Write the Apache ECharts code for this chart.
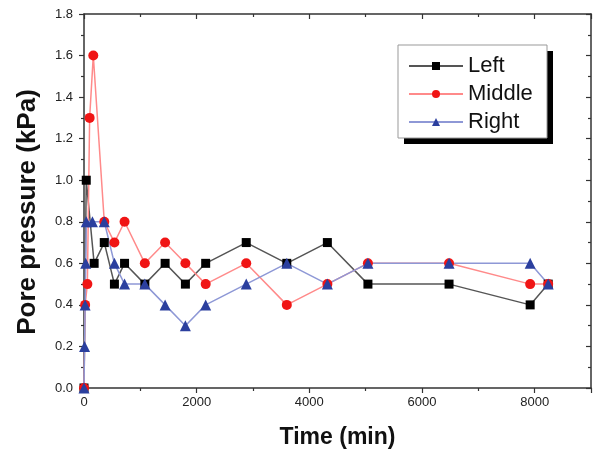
<!DOCTYPE html>
<html>
<head>
<meta charset="utf-8">
<script src="https://cdn.jsdelivr.net/npm/echarts@6/dist/echarts.min.js"></script>
<style>html,body{margin:0;padding:0;background:#fff}#c{width:603px;height:454px}</style>
</head>
<body>
<div id="c"></div>
<script>
const seriesNames = ['Left', 'Middle', 'Right'];
const leftTime = [0, 40, 180, 360, 540, 720, 1080, 1440, 1800, 2160, 2880, 3600, 4320, 5040, 6480, 7920, 8240];
const leftPressure = [0.0, 1.0, 0.6, 0.7, 0.5, 0.6, 0.5, 0.6, 0.5, 0.6, 0.7, 0.6, 0.7, 0.5, 0.5, 0.4, 0.5];
const middleTime = [0, 20, 60, 100, 165, 360, 540, 720, 1080, 1440, 1800, 2160, 2880, 3600, 4320, 5040, 6480, 7920, 8240];
const middlePressure = [0.0, 0.4, 0.5, 1.3, 1.6, 0.8, 0.7, 0.8, 0.6, 0.7, 0.6, 0.5, 0.6, 0.4, 0.5, 0.6, 0.6, 0.5, 0.5];
const rightTime = [0, 10, 20, 30, 40, 150, 360, 540, 720, 1080, 1440, 1800, 2160, 2880, 3600, 4320, 5040, 6480, 7920, 8240];
const rightPressure = [0.0, 0.2, 0.4, 0.6, 0.8, 0.8, 0.8, 0.6, 0.5, 0.5, 0.4, 0.3, 0.4, 0.5, 0.6, 0.5, 0.6, 0.6, 0.6, 0.5];
const xTicks = [0, 2000, 4000, 6000, 8000];
const yTicks = ['0.0','0.2','0.4','0.6','0.8','1.0','1.2','1.4','1.6','1.8'];

const pairs = (xs, ys) => xs.map((x, i) => [x, ys[i]]);
const FONT = "'Liberation Sans', Arial, sans-serif";
const axisLine = { show: true, onZero: false, lineStyle: { color: '#333', width: 1.5 } };
const tickStyle = { color: '#333', width: 1.2 };

const chart = echarts.init(document.getElementById('c'), null, { renderer: 'canvas' });
chart.setOption({
  animation: false,
  backgroundColor: '#fff',
  grid: { left: 84, right: 12, top: 14, bottom: 66 },
  graphic: [
    { type: 'rect', z: 1, shape: { x: 404, y: 51, width: 149, height: 93 }, style: { fill: '#000' } },
    { type: 'rect', z: 2, shape: { x: 398, y: 45, width: 149, height: 93 }, style: { fill: '#fff', stroke: '#999', lineWidth: 1 } }
  ],
  legend: {
    z: 10,
    orient: 'vertical',
    left: 398, top: 45,
    padding: [10, 14, 7, 10],
    itemGap: 6,
    itemWidth: 54, itemHeight: 10,
    textStyle: { fontFamily: FONT, fontSize: 22, color: '#111' },
    data: seriesNames
  },
  xAxis: [{
    type: 'value', position: 'bottom', min: 0, max: 9000, interval: 2000,
    name: 'Time (min)', nameLocation: 'middle', nameGap: 38,
    nameTextStyle: { fontFamily: FONT, fontSize: 23, fontWeight: 'bold', color: '#111' },
    axisLine: axisLine,
    axisTick: { show: true, inside: false, length: 5, lineStyle: tickStyle },
    minorTick: { show: true, splitNumber: 2, length: 3, lineStyle: tickStyle },
    splitLine: { show: false },
    axisLabel: { fontFamily: FONT, fontSize: 13, color: '#222', margin: 8,
      formatter: v => xTicks.includes(v) ? String(v) : '' }
  }, {
    type: 'value', position: 'top', min: 0, max: 9000, interval: 2000,
    axisLine: axisLine,
    axisTick: { show: true, inside: true, length: 5, lineStyle: tickStyle },
    minorTick: { show: true, splitNumber: 2, length: 3, lineStyle: tickStyle },
    splitLine: { show: false }, axisLabel: { show: false }
  }],
  yAxis: [{
    type: 'value', position: 'left', min: 0, max: 1.8, interval: 0.2,
    name: 'Pore pressure (kPa)', nameLocation: 'middle', nameGap: 43,
    nameTextStyle: { fontFamily: FONT, fontSize: 26, fontWeight: 'bold', color: '#111', padding: [0, 22, 0, 0] },
    axisLine: axisLine,
    axisTick: { show: true, inside: false, length: 5, lineStyle: tickStyle },
    minorTick: { show: true, splitNumber: 2, length: 3, lineStyle: tickStyle },
    splitLine: { show: false },
    axisLabel: { fontFamily: FONT, fontSize: 13, color: '#222', margin: 11,
      formatter: v => yTicks[Math.round(v / 0.2)] }
  }, {
    type: 'value', position: 'right', min: 0, max: 1.8, interval: 0.2,
    axisLine: axisLine,
    axisTick: { show: true, inside: true, length: 5, lineStyle: tickStyle },
    minorTick: { show: true, splitNumber: 2, length: 3, lineStyle: tickStyle },
    splitLine: { show: false }, axisLabel: { show: false }
  }],
  series: [{
    name: seriesNames[0], type: 'line', data: pairs(leftTime, leftPressure),
    symbol: 'rect', symbolSize: 9,
    itemStyle: { color: '#000' },
    lineStyle: { color: '#555', width: 1.5 }
  }, {
    name: seriesNames[1], type: 'line', data: pairs(middleTime, middlePressure),
    symbol: 'circle', symbolSize: 10,
    itemStyle: { color: '#f01515' },
    lineStyle: { color: '#ff8a8a', width: 1.5 }
  }, {
    name: seriesNames[2], type: 'line', data: pairs(rightTime, rightPressure),
    symbol: 'triangle', symbolSize: 11,
    itemStyle: { color: '#2b3f9e' },
    lineStyle: { color: '#8e98d6', width: 1.5 }
  }]
});
</script>
</body>
</html>
